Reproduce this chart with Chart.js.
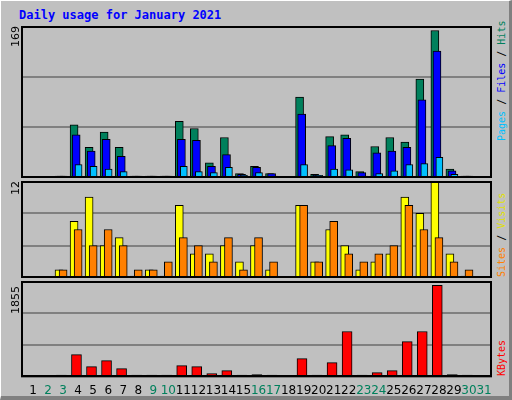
<!DOCTYPE html>
<html>
<head>
<meta charset="utf-8">
<script src="https://cdn.jsdelivr.net/npm/chart.js@4"></script>
<style>
body{margin:0;background:#c0c0c0;}
#wrap{position:relative;width:512px;height:400px;background:#c0c0c0;overflow:hidden;
  box-sizing:border-box;border-top:1px solid #fff;border-left:1px solid #fff;border-right:3px solid #808080;border-bottom:4px solid #808080;}
.box{position:absolute;}
#title{position:absolute;left:18px;top:7px;font:bold 12px "DejaVu Sans Mono",monospace;color:#0000ff;}
.side{position:absolute;transform-origin:0 0;transform:rotate(-90deg);white-space:nowrap;font:10px "DejaVu Sans Mono",monospace;}
</style>
</head>
<body>
<div id="wrap">
<div id="title">Daily usage for January 2021</div>
<div class="box" style="left:20px;top:25px;width:471px;height:152px"><canvas id="c1"></canvas></div>
<div class="box" style="left:20px;top:180px;width:471px;height:97px"><canvas id="c2"></canvas></div>
<div class="box" style="left:20px;top:280px;width:471px;height:118px"><canvas id="c3"></canvas></div>
<div class="side" style="left:8px;top:46px;font:11px 'DejaVu Sans';">169</div>
<div class="side" style="left:8px;top:194px;font:11px 'DejaVu Sans';">12</div>
<div class="side" style="left:8px;top:313px;font:11px 'DejaVu Sans';">1855</div>
<div class="side" style="left:495px;top:140px"><span style="color:#00c0ff">Pages</span> / <span style="color:#0000ff">Files</span> / <span style="color:#00805c">Hits</span></div>
<div class="side" style="left:495px;top:276px"><span style="color:#ff8000">Sites</span> / <span style="color:#e0e000">Visits</span></div>
<div class="side" style="left:495px;top:375px;color:#ff0000">KBytes</div>
</div>
<script>
const days = [1,2,3,4,5,6,7,8,9,10,11,12,13,14,15,16,17,18,19,20,21,22,23,24,25,26,27,28,29,30,31];
const weekend = [2,3,9,10,16,17,23,24,30,31];
// null = no data for that day
const hits   = [null,null,0,59,34,51,34,0,0,2,63,55,17,45,5,13,5,null,90,4,46,48,7,35,45,40,110,164,10,0,null];
const files  = [null,null,0,48,30,43,24,0,0,2,43,42,13,26,4,12,5,null,71,3,36,44,6,28,30,34,87,141,8,0,null];
const pages  = [null,null,0,15,13,10,7,0,0,0,13,7,6,12,3,6,1,null,15,3,10,9,1,5,8,15,16,23,4,0,null];
const visits = [null,null,1,7,10,4,5,0,1,0,9,3,3,4,2,4,1,null,9,2,6,4,1,2,3,10,8,12,3,0,null];
const sites  = [null,null,1,6,4,6,4,1,1,2,5,4,2,5,1,5,2,null,9,2,7,3,2,3,4,9,6,5,2,1,null];
const kbytes = [null,null,0,433,200,317,162,0,0,0,220,200,65,123,0,45,8,null,355,5,278,879,5,84,123,685,879,1771,45,0,null];

function pts(arr, off){
  return days.map((d,i) => ({x: d + off, y: arr[i]}));
}
function ds(arr, off, color, w){
  return {data: pts(arr, off), backgroundColor: color, borderColor: '#000', borderWidth: 1,
          barThickness: w, grouped: false, minBarLength: 2, borderSkipped: false};
}
const frame = {
  id: 'frame',
  beforeDraw(c){
    const a = c.chartArea, x = c.ctx;
    x.fillStyle = '#c0c0c0'; x.fillRect(a.left, a.top, a.width, a.height);
  },
  afterDraw(c){
    const a = c.chartArea, x = c.ctx;
    x.strokeStyle = '#000'; x.lineWidth = 2;
    x.strokeRect(a.left+1, a.top+1, a.width-2, a.height-2);
  }
};
const dayLabels = {
  id: 'dayLabels',
  afterDraw(c){
    const x = c.ctx, s = c.scales.x;
    x.font = '12px "DejaVu Sans"'; x.textAlign = 'center'; x.textBaseline = 'middle';
    days.forEach(d => {
      x.fillStyle = weekend.includes(d) ? '#00805c' : '#000';
      x.fillText(String(d), s.getPixelForValue(d), c.chartArea.bottom + 14);
    });
  }
};
function opts(max, bottomPad){
  return {
    responsive: true, maintainAspectRatio: false, animation: false,
    layout: {padding: {left: 0, right: 0, top: 0, bottom: bottomPad}},
    plugins: {legend: {display: false}, tooltip: {enabled: false}},
    scales: {
      x: {type: 'linear', min: 0.2, max: 31.53, offset: false, display: false},
      y: {min: 0, max: max, ticks: {display: false, stepSize: max/3},
          grid: {color: '#808080', lineWidth: 2, drawTicks: false}, border: {display: false}}
    }
  };
}
new Chart(document.getElementById('c1'), {
  type: 'bar',
  data: {datasets: [ds(pages, 0.03, '#00c0ff', 7), ds(files, -0.13, '#0000ff', 8), ds(hits, -0.27, '#00805c', 8)]},
  options: opts(169, 0), plugins: [frame]
});
new Chart(document.getElementById('c2'), {
  type: 'bar',
  data: {datasets: [ds(sites, 0, '#ff8000', 8), ds(visits, -0.27, '#ffff00', 8)]},
  options: opts(12, 0), plugins: [frame]
});
new Chart(document.getElementById('c3'), {
  type: 'bar',
  data: {datasets: [ds(kbytes, -0.11, '#ff0000', 10)]},
  options: opts(1855, 22), plugins: [frame, dayLabels]
});
</script>
</body>
</html>
